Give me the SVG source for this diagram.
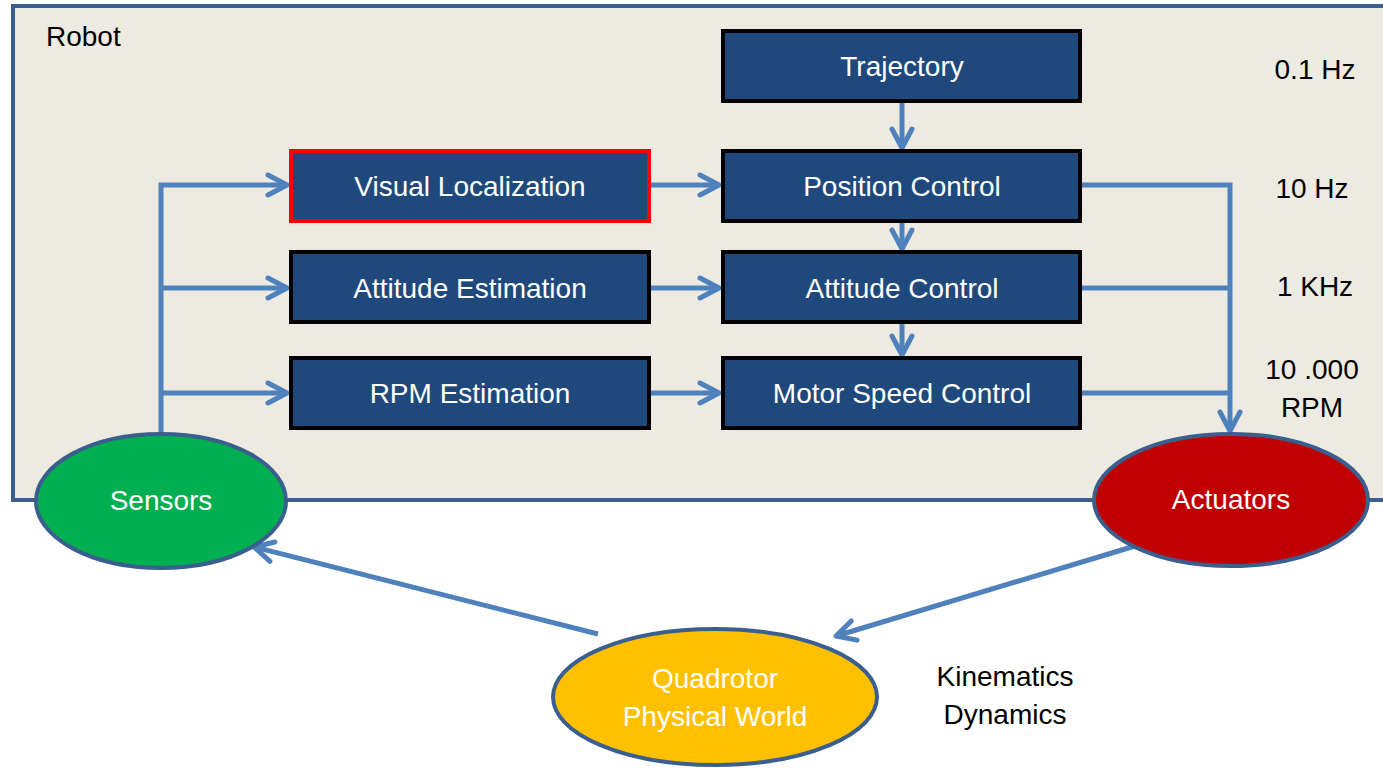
<svg xmlns="http://www.w3.org/2000/svg" width="1383" height="781" viewBox="0 0 1383 781">
<defs>
<style>
.box{fill:#1F497D;stroke:#000;stroke-width:4}
.red{stroke:#FF0000}
.lbl{font-family:"Liberation Sans",Arial,sans-serif;font-size:28px;fill:#fff;text-anchor:middle}
.txt{font-family:"Liberation Sans",Arial,sans-serif;font-size:28px;fill:#000}
.con{fill:none;stroke:#4F81BD;stroke-width:5}
.ell{stroke:#3A5F8F;stroke-width:4}
</style>
<marker id="arr" markerUnits="userSpaceOnUse" markerWidth="30" markerHeight="30" viewBox="-25 -15 30 30" refX="0" refY="0" orient="auto" overflow="visible">
<path d="M-19,-10 L0,0 L-19,10" fill="none" stroke="#4F81BD" stroke-width="5" stroke-linecap="round" stroke-linejoin="round"/>
</marker>
</defs>
<rect width="1383" height="781" fill="#fff"/>
<g id="robot">
<rect x="13" y="6" width="1385" height="494" fill="#EDEBE1" stroke="#3A5F8F" stroke-width="4"/>
<text class="txt" x="46" y="46">Robot</text>
</g>
<g id="connectors">
<path class="con" d="M161,436 V185 H287" marker-end="url(#arr)"/>
<path class="con" d="M161,288 H287" marker-end="url(#arr)"/>
<path class="con" d="M161,393 H287" marker-end="url(#arr)"/>
<path class="con" d="M650,185 H719" marker-end="url(#arr)"/>
<path class="con" d="M650,288 H719" marker-end="url(#arr)"/>
<path class="con" d="M650,393 H719" marker-end="url(#arr)"/>
<path class="con" d="M902,101 V148" marker-end="url(#arr)"/>
<path class="con" d="M902,221 V249" marker-end="url(#arr)"/>
<path class="con" d="M902,322 V355" marker-end="url(#arr)"/>
<path class="con" d="M1080,185 H1230 V431" marker-end="url(#arr)"/>
<path class="con" d="M1080,288 H1230"/>
<path class="con" d="M1080,393 H1230"/>
<path class="con" d="M598,634 L254,547" marker-end="url(#arr)"/>
<path class="con" d="M1135,546 L836,636" marker-end="url(#arr)"/>
</g>
<g id="trajectory"><rect class="box" x="723" y="31" width="357" height="70"/><text class="lbl" x="902" y="76">Trajectory</text></g>
<g id="position-control"><rect class="box" x="723" y="151" width="357" height="70"/><text class="lbl" x="902" y="196">Position Control</text></g>
<g id="attitude-control"><rect class="box" x="723" y="252" width="357" height="70"/><text class="lbl" x="902" y="298">Attitude Control</text></g>
<g id="motor-speed-control"><rect class="box" x="723" y="358" width="357" height="70"/><text class="lbl" x="902" y="403">Motor Speed Control</text></g>
<g id="visual-localization"><rect class="box red" x="291" y="151" width="358" height="70"/><text class="lbl" x="470" y="196">Visual Localization</text></g>
<g id="attitude-estimation"><rect class="box" x="291" y="252" width="358" height="70"/><text class="lbl" x="470" y="298">Attitude Estimation</text></g>
<g id="rpm-estimation"><rect class="box" x="291" y="358" width="358" height="70"/><text class="lbl" x="470" y="403">RPM Estimation</text></g>
<g id="sensors"><ellipse class="ell" cx="161" cy="501" rx="125" ry="67" fill="#00B050"/><text class="lbl" x="161" y="510">Sensors</text></g>
<g id="actuators"><ellipse class="ell" cx="1231" cy="500" rx="137" ry="66" fill="#C00000"/><text class="lbl" x="1231" y="509">Actuators</text></g>
<g id="quadrotor"><ellipse class="ell" cx="715" cy="697" rx="162" ry="68" fill="#FFC000"/><text class="lbl" x="715" y="688">Quadrotor</text><text class="lbl" x="715" y="726">Physical World</text></g>
<g id="rates">
<text class="txt" x="1315" y="79" text-anchor="middle">0.1 Hz</text>
<text class="txt" x="1312" y="198" text-anchor="middle">10 Hz</text>
<text class="txt" x="1315" y="296" text-anchor="middle">1 KHz</text>
<text class="txt" x="1312" y="379" text-anchor="middle">10 .000</text>
<text class="txt" x="1312" y="417" text-anchor="middle">RPM</text>
</g>
<g id="physics">
<text class="txt" x="1005" y="686" text-anchor="middle">Kinematics</text>
<text class="txt" x="1005" y="724" text-anchor="middle">Dynamics</text>
</g>
</svg>
